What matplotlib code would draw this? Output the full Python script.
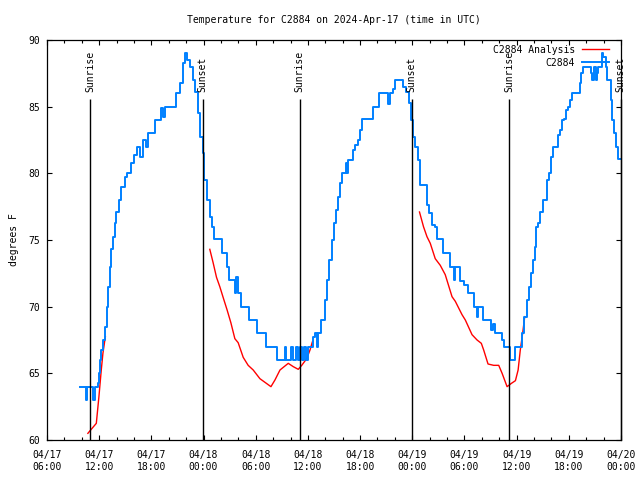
import matplotlib
matplotlib.use('Agg')
import matplotlib.pyplot as plt
import matplotlib.dates as mdates
import numpy as np
import pandas as pd

START = pd.Timestamp('2024-04-17 06:00')
END = pd.Timestamp('2024-04-20 00:00')

# observed temperature, hours since 04/17 06:00 UTC
obs_hours = [3.82, 4.32, 4.52, 4.63, 5.09, 5.28, 5.47, 5.74, 5.85, 5.97, 6.13, 6.24, 6.43,
             6.71, 6.85, 7.00, 7.20, 7.40, 7.58, 7.78, 7.97, 8.24, 8.55, 8.93, 9.24, 9.70,
             10.00, 10.35, 10.66, 11.04, 11.35, 11.61, 12.24, 12.38, 13.08, 13.34, 13.54,
             14.69, 14.88, 15.26, 15.65, 15.84, 16.15, 16.42, 16.80, 17.07, 17.37, 17.60,
             17.88, 18.06, 18.34, 18.72, 18.99, 19.18, 19.76, 20.07, 20.53, 20.71, 20.94,
             21.41, 21.60, 21.72, 21.98, 22.26, 22.95, 23.21, 23.99, 24.17, 25.06, 25.17,
             26.29, 26.47, 27.17, 27.36, 27.53, 27.94, 28.11, 28.28, 28.63, 28.86, 29.09,
             29.32, 29.55, 29.78, 30.01, 30.24, 30.62, 30.82, 30.99, 31.20, 31.47, 31.77,
             31.97, 32.17, 32.47, 32.81, 33.04, 33.24, 33.50, 33.70, 33.93, 34.16, 34.35,
             34.47, 34.65, 35.04, 35.23, 35.43, 35.81, 36.00, 36.27, 37.27, 37.47, 38.00,
             38.23, 39.08, 39.26, 39.46, 39.77, 40.00, 40.61, 40.92, 41.30, 41.57, 41.88,
             42.07, 42.34, 42.65, 42.91, 43.49, 43.69, 43.87, 44.26, 44.64, 44.84, 45.22,
             45.48, 46.11, 46.29, 46.71, 46.83, 46.95, 47.33, 47.52, 47.90, 48.41, 48.79,
             49.06, 49.45, 49.60, 49.83, 50.09, 50.86, 51.09, 51.24, 51.55, 52.13, 52.33,
             52.51, 53.09, 53.28, 53.46, 53.85, 54.42, 54.63, 54.90, 55.21, 55.47, 55.70,
             55.90, 56.08, 56.24, 56.47, 56.74, 57.00, 57.30, 57.50, 57.70, 57.97, 58.20,
             58.55, 58.73, 59.04, 59.24, 59.50, 59.70, 59.88, 60.08, 60.31, 61.08, 61.27,
             61.43, 61.61, 62.30, 62.50, 62.70, 62.88, 63.07, 63.19, 63.34, 63.57, 63.77,
             63.96, 64.23, 64.42, 64.61, 64.80, 65.00, 65.18, 65.38, 65.64, 65.96]
obs_temps = [64, 64, 63, 64, 64, 63, 64, 64, 64.3, 65, 66, 66.75, 67.5,
             68.5, 70, 71.5, 73, 74.3, 75.2, 76.3, 77.1, 78, 79, 79.7, 80, 80.8,
             81.4, 82, 81.2, 82.5, 82, 83, 83, 84, 84.9, 84.2, 85,
             85, 86, 86.8, 88.3, 89, 88.5, 88, 87, 86.1, 84.5, 82.7,
             81.5, 79.5, 78, 76.7, 76, 75.1, 75.1, 74, 74, 73, 72,
             72, 71, 72.2, 71, 70, 70, 69, 69, 68, 68, 67,
             67, 66, 66, 67, 66, 66, 67, 66, 67, 66, 67,
             66, 67, 66, 67, 67, 67.7, 68, 67, 68, 69, 69,
             70.5, 72, 73.5, 75, 76.25, 77.25, 78.25, 79.25, 80, 80, 80.8,
             80, 81, 81, 81.75, 82.1, 82.5, 83.25, 84.1, 84.1, 85, 85,
             86, 86, 85.2, 86, 86.3, 87, 87, 86.5, 86.1, 85.3, 84,
             82.7, 82, 81, 79.1, 79.1, 77.6, 77, 76.1, 76, 75.1, 75.1,
             74, 74, 73, 73, 72, 73, 73, 71.9, 71.6, 71, 71,
             70, 69.2, 70, 70, 69, 69, 68.25, 68.7, 68, 68, 67.5,
             67, 67, 66, 66, 67, 67, 68, 69.25, 70.5, 71.5, 72.5,
             73.5, 74.5, 76, 76.25, 77.1, 78, 78, 79.5, 80, 81.25, 82,
             82, 82.9, 83.25, 84, 84.1, 84.75, 85, 85.5, 86, 86, 86.8,
             87.5, 88, 88, 87.5, 87, 88, 87, 87.5, 88, 88, 89,
             88.75, 88, 87, 87, 85.5, 84, 83, 82, 81.1, 81.1]

# analysis, three separate runs
ana1_hours = [4.70, 5.67, 5.97, 6.24, 6.43, 6.71]
ana1_temps = [60.5, 61.25, 63.25, 65.25, 66.5, 67.75]
ana2_hours = [18.72, 19.10, 19.49, 19.87, 20.25, 20.71, 21.14, 21.60, 21.98, 22.56, 23.13,
              23.71, 24.48, 25.75, 26.21, 26.79, 27.74, 28.32, 28.89, 29.29, 29.86, 30.24, 30.51]
ana2_temps = [74.3, 73.3, 72.2, 71.5, 70.7, 69.75, 68.8, 67.6, 67.3, 66.2, 65.6,
              65.25, 64.6, 64, 64.5, 65.25, 65.75, 65.5, 65.3, 65.6, 66.1, 66.75, 67.35]
ana3_hours = [42.83, 43.29, 43.69, 44.07, 44.64, 45.22, 45.79, 46.57, 46.95, 47.72, 48.10,
              48.87, 49.45, 49.94, 50.21, 50.71, 51.36, 51.94, 52.33, 52.90, 53.40, 53.86,
              54.17, 54.42, 54.69, 54.93]
ana3_temps = [77.1, 76, 75.25, 74.75, 73.6, 73.1, 72.4, 70.75, 70.4, 69.4, 69,
              67.9, 67.5, 67.25, 66.75, 65.7, 65.6, 65.6, 65, 64, 64.25, 64.45,
              65.25, 66.75, 68, 69.25]

sun_times = ['2024-04-17 10:57', '2024-04-17 23:54', '2024-04-18 11:03',
             '2024-04-18 23:57', '2024-04-19 11:07', '2024-04-19 23:59']
sun_labels = ['Sunrise', 'Sunset', 'Sunrise', 'Sunset', 'Sunrise', 'Sunset']


def to_times(hours):
    return (START + pd.to_timedelta(np.array(hours), unit='h')).to_numpy()


plt.rcParams['font.family'] = ['DejaVu Sans Mono']
plt.rcParams['font.size'] = 7

fig = plt.figure(figsize=(6.4, 4.8), dpi=100)
ax = fig.add_axes([47 / 640, 40 / 480, 574 / 640, 400 / 480])

red_line = None
for hrs, tmp in [(ana1_hours, ana1_temps), (ana2_hours, ana2_temps), (ana3_hours, ana3_temps)]:
    red_line, = ax.plot(to_times(hrs), tmp, color='#ff0000', lw=1.0)

blue_line, = ax.plot(to_times(obs_hours), obs_temps, color='#0080ff', lw=1.4,
                     drawstyle='steps-post')

for t, lab in zip(sun_times, sun_labels):
    ts = pd.Timestamp(t).to_numpy()
    ax.vlines(ts, 60, 85.6, color='black', lw=1.0, clip_on=False)
    ax.text(ts, 86.1, lab, rotation=90, ha='center', va='bottom')

ax.set_xlim(START.to_numpy(), END.to_numpy())
ax.set_ylim(60, 90)
ax.set_yticks(np.arange(60, 91, 5))

ax.xaxis.set_major_locator(mdates.HourLocator(byhour=[0, 6, 12, 18]))
ax.xaxis.set_minor_locator(mdates.HourLocator(interval=2))
ax.xaxis.set_major_formatter(mdates.DateFormatter('%m/%d\n%H:%M'))

ax.tick_params(which='both', direction='in', top=True, right=True, width=0.8)
ax.tick_params(which='major', length=3.5)
ax.tick_params(which='minor', length=2)
ax.tick_params(axis='x', pad=7)
ax.tick_params(axis='y', pad=5)
for lbl in ax.get_xticklabels():
    lbl.set_linespacing(1.3)
for sp in ax.spines.values():
    sp.set_linewidth(0.9)

ax.set_ylabel('degrees F', labelpad=7)
fig.text(334 / 640, 1 - 20 / 480, 'Temperature for C2884 on 2024-Apr-17 (time in UTC)',
         ha='center', va='center')

ax.legend([red_line, blue_line], ['C2884 Analysis', 'C2884'], loc='upper right',
          bbox_to_anchor=(0.988, 1.0), frameon=False, markerfirst=False,
          handlelength=2.8, handletextpad=0.7, labelspacing=0.3, borderaxespad=0.1)

fig.savefig('out.png', dpi=100)
